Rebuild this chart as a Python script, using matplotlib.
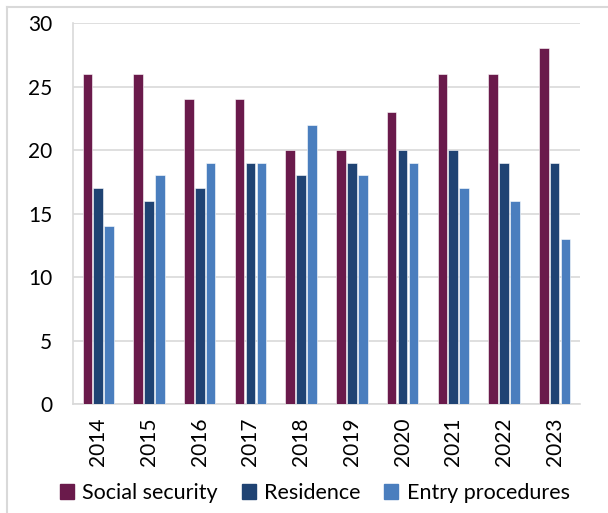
import numpy as np
import matplotlib
matplotlib.use("Agg")
import matplotlib.pyplot as plt
from matplotlib.patches import Patch
from matplotlib.lines import Line2D

plt.rcParams['font.family'] = ['Lato', 'DejaVu Sans']

years = ['2014', '2015', '2016', '2017', '2018', '2019', '2020', '2021', '2022', '2023']
social_security = [26, 26, 24, 24, 20, 20, 23, 26, 26, 28]
residence = [17, 16, 17, 19, 18, 19, 20, 20, 19, 19]
entry_procedures = [14, 18, 19, 19, 22, 18, 19, 17, 16, 13]

series = [
    ('Social security', social_security, '#6A1A4B'),
    ('Residence', residence, '#1F4373'),
    ('Entry procedures', entry_procedures, '#4A7EBE'),
]

fig = plt.figure(figsize=(6.08, 5.13), dpi=100)
ax = fig.add_axes([0.120, 0.2125, 0.834, 0.7425])

x = np.arange(len(years))
w = 0.19
step = 0.215
for i, (name, vals, col) in enumerate(series):
    ax.bar(x + (i - 1) * step, vals, w, color=col, edgecolor='white',
           linewidth=0.4, label=name, zorder=3)

ax.set_xlim(-0.5, len(years) - 0.5)
ax.set_ylim(0, 30)
ax.set_yticks(range(0, 31, 5))
ax.set_xticks(x)
ax.set_xticklabels(years, rotation=90)
ax.tick_params(axis='y', length=0, pad=15, labelsize=15)
ax.tick_params(axis='x', length=0, pad=10, labelsize=15)
ax.grid(axis='y', color='#D9D9D9', linewidth=1.2, zorder=0)
for s in ['top', 'right']:
    ax.spines[s].set_visible(False)
for s in ['left', 'bottom']:
    ax.spines[s].set_color('#D9D9D9')
    ax.spines[s].set_linewidth(1.2)

handles = [Patch(color=c, label=n) for n, _, c in series]
fig.legend(handles=handles, loc='center', bbox_to_anchor=(0.518, 0.039),
           ncol=3, frameon=False, fontsize=15.5, handlelength=0.65,
           handleheight=0.65, handletextpad=0.4, columnspacing=1.1)

# frame lines along the left and top edges
fig.add_artist(Line2D([0.011, 0.011], [0, 0.986], color='#D9D9D9', lw=1.5,
                      transform=fig.transFigure))
fig.add_artist(Line2D([0.011, 1], [0.986, 0.986], color='#D9D9D9', lw=1.5,
                      transform=fig.transFigure))

fig.savefig('out.png', dpi=100)
